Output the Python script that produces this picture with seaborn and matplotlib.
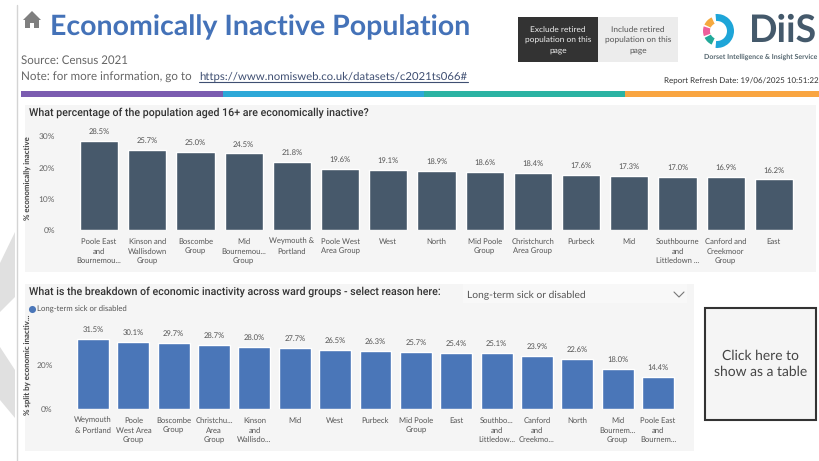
import matplotlib
matplotlib.use("Agg")
import matplotlib.pyplot as plt
import matplotlib.patches as mp
import seaborn as sns

top_groups = ["Poole East\nand\nBournemou...", "Kinson and\nWallisdown\nGroup", "Boscombe\nGroup",
              "Mid\nBournemou...\nGroup", "Weymouth &\nPortland", "Poole West\nArea Group", "West", "North",
              "Mid Poole\nGroup", "Christchurch\nArea Group", "Purbeck", "Mid",
              "Southbourne\nand\nLittledown ...", "Canford and\nCreekmoor\nGroup", "East"]
top_values = [28.5, 25.7, 25.0, 24.5, 21.8, 19.6, 19.1, 18.9, 18.6, 18.4, 17.6, 17.3, 17.0, 16.9, 16.2]

low_groups = ["Weymouth\n& Portland", "Poole\nWest Area\nGroup", "Boscombe\nGroup", "Christchu...\nArea\nGroup",
              "Kinson\nand\nWallisdo...", "Mid", "West", "Purbeck", "Mid Poole\nGroup", "East",
              "Southbo...\nand\nLittledow...", "Canford\nand\nCreekmo...", "North",
              "Mid\nBournem...\nGroup", "Poole East\nand\nBournem..."]
low_values = [31.5, 30.1, 29.7, 28.7, 28.0, 27.7, 26.5, 26.3, 25.7, 25.4, 25.1, 23.9, 22.6, 18.0, 14.4]

W, H = 820, 461
sns.set_theme(style="white")
plt.rcParams["font.family"] = ["Lato", "DejaVu Sans"]
plt.rcParams["text.hinting"] = "none"
fig = plt.figure(figsize=(W / 100, H / 100), dpi=100, facecolor="white")

# page furniture, drawn in pixel coordinates
bg = fig.add_axes([0, 0, 1, 1], zorder=0)
bg.set_xlim(0, W)
bg.set_ylim(H, 0)
bg.axis("off")


def rect(x0, y0, x1, y1, **kw):
    kw.setdefault("lw", 0)
    bg.add_patch(mp.Rectangle((x0, y0), x1 - x0, y1 - y0, **kw))


# grey chevrons and rule on the left
bg.add_patch(mp.Polygon([(0, 263), (15, 232), (15, 297), (0, 312)], color="#e0e0e0", lw=0))
bg.add_patch(mp.Polygon([(0, 347), (15, 370), (15, 418), (0, 400)], color="#e0e0e0", lw=0))
bg.plot([17, 17], [5, H], color="#d4d4d4", lw=1)

# home icon
bg.add_patch(mp.Polygon([(23, 20), (32, 11), (41, 20)], color="#7f7f7f", lw=0))
rect(25, 20, 39, 28, color="#7f7f7f")
rect(30, 23, 34, 28, color="white")

bg.text(50, 27.5, "Economically Inactive Population", fontsize=20.5, fontweight="bold", color="#4472b8", va="center")
bg.text(21, 61, "Source: Census 2021", fontsize=8.3, color="#666666", va="center")
bg.text(21, 76.5, "Note: for more information, go to", fontsize=8.4, color="#666666", va="center")
bg.text(199, 76.5, "https://www.nomisweb.co.uk/datasets/c2021ts066#", fontsize=8.2, color="#3f4f72", va="center")
bg.plot([199, 468], [82.5, 82.5], color="#3f4f72", lw=0.8)

# toggle buttons
rect(518, 17, 598, 62, color="#333333")
rect(598, 17, 678, 62, color="#ececec")
bg.text(558, 40, "Exclude retired\npopulation on this\npage", fontsize=6, color="#eeeeee", ha="center", va="center", linespacing=1.45)
bg.text(638, 40, "Include retired\npopulation on this\npage", fontsize=6, color="#555555", ha="center", va="center", linespacing=1.45)

# logo
bg.add_patch(mp.Wedge((717, 31), 17, -95, 95, width=7, color="#1ea5d8", lw=0))
bg.add_patch(mp.Wedge((718, 31), 15, 205, 245, width=7, color="#f5a93f", lw=0))
bg.add_patch(mp.Wedge((718, 31), 15, 160, 198, width=7, color="#ee5f9b", lw=0))
bg.add_patch(mp.Wedge((718, 31), 15, 115, 153, width=7, color="#22a99a", lw=0))
bg.text(749, 31, "DiiS", fontsize=27, fontweight="bold", color="#44596b", va="center")
bg.text(704, 57, "Dorset Intelligence & Insight Service", fontsize=5, fontweight="bold", color="#55666f", va="center")
bg.text(819, 81, "Report Refresh Date: 19/06/2025 10:51:22", fontsize=5.8, color="#333333", ha="right", va="center")

# coloured strip
for x0, x1, c in [(21, 223, "#7b5cb0"), (223, 424, "#2da8d8"), (424, 625, "#2bb3a3"), (625, 820, "#f9a541")]:
    rect(x0, 91, x1, 97.5, color=c)

# chart panels
rect(25, 105, 816, 272, color="#f5f5f5")
rect(25, 284, 694, 451, color="#f5f5f5")
title_font = dict(family="Roboto", fontsize=7.7, fontweight="medium", color="#333333", va="center")
bg.text(29, 113, "What percentage of the population aged 16+ are economically inactive?", **title_font)
bg.text(29, 291.5, "What is the breakdown of economic inactivity across ward groups - select reason here:", **title_font)

# slicer
rect(463, 284, 687, 303, color="#f8f8f8")
bg.text(467, 295, "Long-term sick or disabled", fontsize=7.4, color="#555555", va="center")
bg.plot([674, 679, 684], [292, 297, 292], color="#777777", lw=0.8)

# legend of the lower chart
bg.scatter([32.5], [309], s=26, color="#4a76b8", lw=0)
bg.text(37, 309, "Long-term sick or disabled", fontsize=5.6, color="#555555", va="center")

# table button
rect(705, 308, 816, 420, facecolor="#f5f5f5", edgecolor="#333333", lw=1.5)
bg.text(760.5, 364, "Click here to\nshow as a table", fontsize=10, color="#444444", ha="center", va="center", linespacing=1.25)


def bar_chart(left, top, right, bottom, groups, values, colour, ymax, ticks, ylabel, label_y):
    ax = fig.add_axes([left / W, 1 - bottom / H, (right - left) / W, (bottom - top) / H], zorder=1)
    ax.patch.set_alpha(0)
    sns.barplot(x=groups, y=values, color=colour, saturation=1, width=0.79, ax=ax)
    ax.set_xlim(-0.5, len(groups) - 0.5)
    ax.set_ylim(0, ymax)
    ax.set_yticks(ticks)
    ax.set_yticklabels([f"{t}%" for t in ticks])
    ax.tick_params(axis="y", length=0, pad=14.5, labelsize=6, labelcolor="#666666")
    ax.tick_params(axis="x", length=0, pad=5.5, labelsize=5.5, labelcolor="#555555")
    for lab in ax.get_xticklabels():
        lab.set_linespacing(1.45)
    ax.bar_label(ax.containers[0], fmt="%.1f%%", padding=4, fontsize=5.5, color="#555555")
    ax.set_ylabel(ylabel, fontsize=5.7, color="#444444", fontweight="bold")
    ax.yaxis.set_label_coords((32.5 - left) / (right - left), label_y)
    sns.despine(ax=ax, left=True, bottom=True)
    return ax


bar_chart(75, 136.3, 798, 230, top_groups, top_values, "#47596b", 30, [0, 10, 20, 30], "% economically inactive", 0.555)
bar_chart(72.8, 331.3, 678.2, 409, low_groups, low_values, "#4a76b8", 35, [0, 20], "% split by economic inactiv...", 0.566)

fig.savefig("out.png", dpi=100)
